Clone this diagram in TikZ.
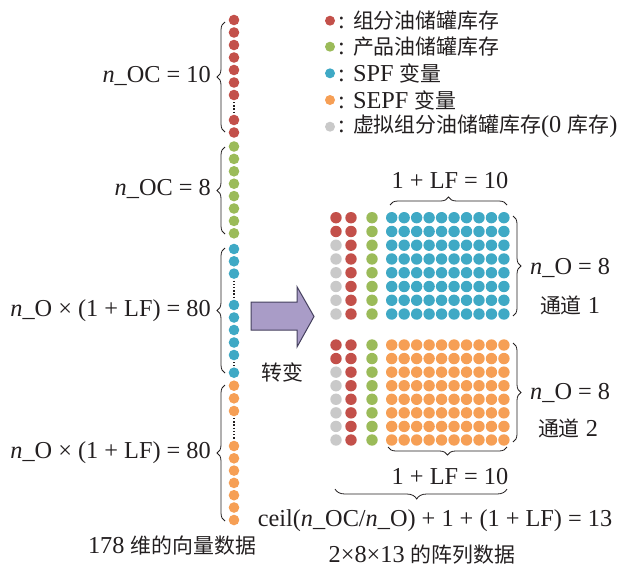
\documentclass[tikz,border=0pt]{standalone}
\usepackage{fontspec}
\setmainfont{Liberation Serif}
\newfontfamily\cjk[Scale=0.86]{Noto Sans CJK SC}
\usetikzlibrary{decorations.pathreplacing}
\definecolor{cRed}{HTML}{C3504A}
\definecolor{cGreen}{HTML}{9BBB59}
\definecolor{cBlue}{HTML}{3FA9C5}
\definecolor{cOrange}{HTML}{F69F55}
\definecolor{cGray}{HTML}{C9C9C9}
\definecolor{cPurple}{HTML}{A99CC7}
\definecolor{cEdge}{HTML}{45405E}
\definecolor{txt}{HTML}{231F20}
\begin{document}
\begin{tikzpicture}[x=1pt,y=-1pt,
  dotL/.style={circle,inner sep=0pt,minimum size=10.6pt},
  dotG/.style={circle,inner sep=0pt,minimum size=11.4pt},
  dotK/.style={circle,inner sep=0pt,minimum size=10pt},
  lbl/.style={inner sep=0pt,font=\fontsize{24.3}{27}\selectfont,text=txt},
  brcL/.style={decorate,decoration={brace,amplitude=8pt},line width=0.8pt,draw=txt},
  brcR/.style={decorate,decoration={brace,amplitude=8pt},line width=0.8pt,draw=txt},
  ell/.style={line width=1.3pt,dash pattern=on 1.3pt off 1.9pt,shorten >=1.5pt,shorten <=1.5pt,draw=txt},
  arrowbox/.style={fill=cPurple,draw=cEdge,line width=1pt,line join=miter}]
\useasboundingbox (0,0) rectangle (617,568);

% ---------- legend ----------
\node[dotK,fill=cRed]    (k1) at (330,20.7) {};
\node[dotK,fill=cGreen]  (k2) at (330,46.7) {};
\node[dotK,fill=cBlue]   (k3) at (330,73.3) {};
\node[dotK,fill=cOrange] (k4) at (330,100) {};
\node[dotK,fill=cGray]   (k5) at (330,126.7) {};
\node[lbl,anchor=west] (t1) at (338,20.7) {: {\cjk 组分油储罐库存}};
\node[lbl,anchor=west] (t2) at (338,46.7) {: {\cjk 产品油储罐库存}};
\node[lbl,anchor=west] (t3) at (338,73.3) {: SPF {\cjk 变量}};
\node[lbl,anchor=west] (t4) at (338,100) {: SEPF {\cjk 变量}};
\node[lbl,anchor=west] (t5) at (338,126.7) {: {\cjk 虚拟组分油储罐库存}(0 {\cjk 库存})};

% ---------- left vector ----------
\foreach \i/\y in {1/20,2/32.5,3/45,4/57.5,5/70,6/82.5,7/95,8/120,9/132.5}
  \node[dotL,fill=cRed] (r\i) at (234,\y) {};
\draw[ell] (r7) -- (r8);
\foreach \i in {1,...,8}{
  \pgfmathsetmacro\yy{146.5+(\i-1)*12.4}
  \node[dotL,fill=cGreen] (g\i) at (234,\yy) {};
}
\foreach \i/\y in {1/249,2/261.3,3/273.6,4/305,5/317.5,6/330,7/342.5,8/355,9/372.7}
  \node[dotL,fill=cBlue] (b\i) at (234,\y) {};
\draw[ell] (b3) -- (b4);
\draw[ell] (b8) -- (b9);
\foreach \i/\y in {1/385.7,2/398.3,3/411,4/446,5/458.3,6/470.6,7/482.9,8/495.2,9/507.5,10/520}
  \node[dotL,fill=cOrange] (o\i) at (234,\y) {};
\draw[ell] (o3) -- (o4);

\draw[brcL] (225,132) -- (225,22);
\draw[brcL] (225,234) -- (225,147);
\draw[brcL] (225,373) -- (225,248);
\draw[brcL] (225,521) -- (225,385);

\node[lbl,anchor=east] (l1) at (211,76) {\textit{n}\_OC = 10};
\node[lbl,anchor=east] (l2) at (211,189) {\textit{n}\_OC = 8};
\node[lbl,anchor=east] (l3) at (211,311) {\textit{n}\_O × (1 + LF) = 80};
\node[lbl,anchor=east] (l4) at (211,453) {\textit{n}\_O × (1 + LF) = 80};
\node[lbl] (l5) at (172,546) {178 {\cjk 维的向量数据}};

% ---------- arrow ----------
\draw[arrowbox] (251,302) -- (297,302) -- (297,286.7) -- (314,316.5) -- (297,347) -- (297,330) -- (251,330) -- cycle;
\node[lbl] (tr) at (282,372) {\cjk 转变};

% ---------- grids ----------
\foreach \r in {1,...,8}{
  \pgfmathsetmacro\ya{217.7+(\r-1)*13.76}
  \pgfmathsetmacro\yb{345+(\r-1)*13.57}
  \ifnum\r<3 \def\ca{cRed}\else\def\ca{cGray}\fi
  \node[dotG,fill=\ca] (a\r x1) at (336,\ya) {};
  \node[dotG,fill=cRed] (a\r x2) at (351,\ya) {};
  \node[dotG,fill=cGreen] (a\r x3) at (372,\ya) {};
  \node[dotG,fill=\ca] (c\r x1) at (336,\yb) {};
  \node[dotG,fill=cRed] (c\r x2) at (351,\yb) {};
  \node[dotG,fill=cGreen] (c\r x3) at (372,\yb) {};
  \foreach \c in {1,...,10}{
    \pgfmathsetmacro\xx{391.7+(\c-1)*12.47}
    \node[dotG,fill=cBlue] (a\r y\c) at (\xx,\ya) {};
    \node[dotG,fill=cOrange] (c\r y\c) at (\xx,\yb) {};
  }
}

\draw[brcR] (390,205) -- (507,205);
\node[lbl] (m1) at (450,181) {1 + LF = 10};
\draw[brcR] (513,216) -- (513,316);
\node[lbl,anchor=west] (m2) at (530,268) {\textit{n}\_O = 8};
\node[lbl] (m3) at (570,305) {{\cjk 通道} 1};
\draw[brcR] (513,343) -- (513,442);
\node[lbl,anchor=west] (m4) at (530,393) {\textit{n}\_O = 8};
\node[lbl] (m5) at (568,428) {{\cjk 通道} 2};
\draw[brcR] (507,447) -- (388,447);
\node[lbl] (m6) at (450,477) {1 + LF = 10};
\draw[decorate,decoration={brace,amplitude=10pt,aspect=0.525},line width=0.8pt,draw=txt] (507,489) -- (335,489);
\node[lbl] (m7) at (435,521) {ceil(\textit{n}\_OC/\textit{n}\_O) + 1 + (1 + LF) = 13};
\node[lbl] (m8) at (422,555) {2×8×13 {\cjk 的阵列数据}};
\end{tikzpicture}
\end{document}
